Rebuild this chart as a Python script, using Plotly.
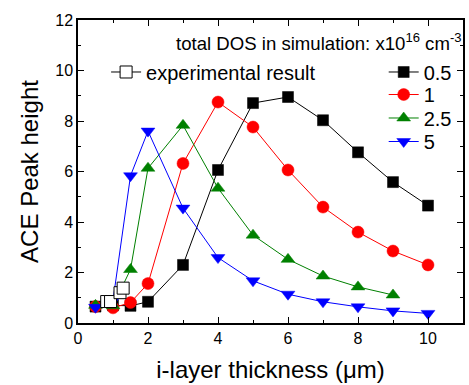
import plotly.graph_objects as go

# i-layer thickness (um) for the simulated series
thickness = [0.5, 1, 1.5, 2, 3, 4, 5, 6, 7, 8, 9, 10]

# ACE peak height for each simulated total DOS (x1e16 cm^-3)
peak_05 = [0.65, 0.7, 0.68, 0.84, 2.3, 6.06, 8.71, 8.95, 8.03, 6.76, 5.58, 4.65]
peak_1 = [0.65, 0.6, 0.81, 1.56, 6.32, 8.75, 7.76, 6.06, 4.59, 3.6, 2.85, 2.3]
thickness_25 = [0.5, 1, 1.5, 2, 3, 4, 5, 6, 7, 8, 9]
peak_25 = [0.7, 0.68, 2.12, 6.13, 7.83, 5.34, 3.48, 2.52, 1.86, 1.43, 1.11]
peak_5 = [0.62, 0.9, 5.83, 7.6, 4.55, 2.59, 1.67, 1.14, 0.84, 0.64, 0.48, 0.38]

# measured data
exp_thickness = [0.82, 0.93, 1.2, 1.29]
exp_peak = [0.85, 0.85, 1.2, 1.38]

FONT = "Liberation Sans, Arial, sans-serif"
LEGEND_FONT = dict(family=FONT, size=20, color="black")

fig = go.Figure()

# one single-entry legend per series so each row can be placed on its own
series = [
    ("0.5", thickness, peak_05, "black", "square", 11, "legend", 0.8284),
    ("1", thickness, peak_1, "red", "circle", 12, "legend3", 0.7541),
    ("2.5", thickness_25, peak_25, "green", "triangle-up", 12, "legend4", 0.6766),
    ("5", thickness, peak_5, "blue", "triangle-down", 12, "legend5", 0.5990),
]
legends = {}
for name, xs, ys, color, symbol, size, leg, ly in series:
    fig.add_trace(go.Scatter(
        x=xs, y=ys, name=name, mode="lines+markers",
        line=dict(color=color, width=1),
        marker=dict(symbol=symbol, size=size, color=color,
                    line=dict(color=color, width=0.5)),
        legend=leg,
    ))
    legends[leg] = dict(
        x=0.794, y=ly, xanchor="left", yanchor="middle",
        bgcolor="rgba(0,0,0,0)", font=LEGEND_FONT,
    )

fig.add_trace(go.Scatter(
    x=exp_thickness, y=exp_peak, name="experimental result",
    mode="lines+markers",
    line=dict(color="black", width=1),
    marker=dict(symbol="square", size=12, color="white",
                line=dict(color="black", width=1)),
    legend="legend2",
))
legends["legend2"] = dict(
    x=0.073, y=0.8284, xanchor="left", yanchor="middle",
    bgcolor="rgba(0,0,0,0)", font=LEGEND_FONT,
)

axis_common = dict(
    showline=True, linecolor="black", linewidth=1.5, mirror="ticks",
    ticks="inside", ticklen=6, tickwidth=1, tickcolor="black",
    showgrid=False, zeroline=False,
    tickfont=dict(family=FONT, size=16, color="black"),
    minor=dict(ticks="inside", ticklen=3, tickwidth=1, tickcolor="black", dtick=1),
)

fig.update_xaxes(
    range=[0, 11], tick0=0, dtick=2,
    title=dict(text="i-layer thickness (\u03bcm)", font=dict(family=FONT, size=24, color="black"), standoff=15),
    **axis_common,
)
fig.update_yaxes(
    range=[0, 12], tick0=0, dtick=2,
    title=dict(text="ACE Peak height", font=dict(family=FONT, size=24, color="black"), standoff=10),
    **axis_common,
)

fig.add_annotation(
    text="total DOS in simulation: x10<sup>16</sup> cm<sup>-3</sup>",
    xref="paper", yref="paper", x=1.0, y=0.926, xanchor="right", yanchor="middle",
    showarrow=False, font=dict(family=FONT, size=18.6, color="black"),
)

fig.update_layout(
    width=469, height=385,
    margin=dict(l=78, r=4, t=20, b=62),
    paper_bgcolor="white", plot_bgcolor="white",
    font=dict(family=FONT, color="black"),
    showlegend=True,
    **legends,
)

fig.write_html("out.html")
